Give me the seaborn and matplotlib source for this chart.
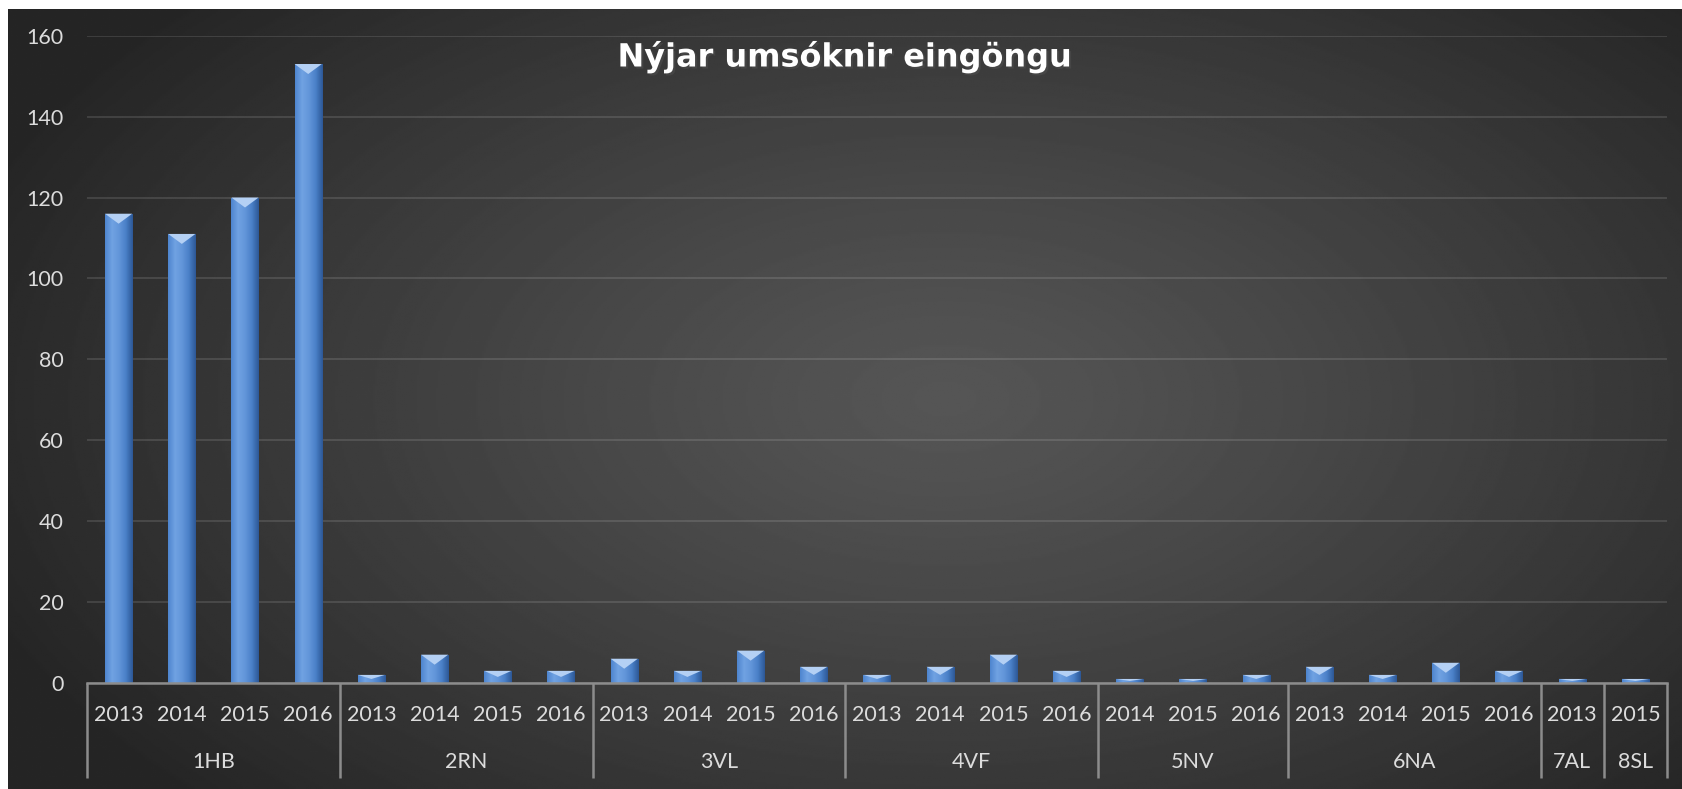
import numpy as np
import pandas as pd
import matplotlib
matplotlib.use("Agg")
import matplotlib.pyplot as plt
import matplotlib.patheffects as pe
import matplotlib.transforms as mtransforms
from matplotlib.patches import Polygon
from matplotlib.colors import LinearSegmentedColormap
import seaborn as sns

# ── data ──────────────────────────────────────────
groups = ["1HB"] * 4 + ["2RN"] * 4 + ["3VL"] * 4 + ["4VF"] * 4 + \
         ["5NV"] * 3 + ["6NA"] * 4 + ["7AL", "8SL"]
years = ["2013", "2014", "2015", "2016",
         "2013", "2014", "2015", "2016",
         "2013", "2014", "2015", "2016",
         "2013", "2014", "2015", "2016",
         "2014", "2015", "2016",
         "2013", "2014", "2015", "2016",
         "2013", "2015"]
counts = [116, 111, 120, 153,
          2, 7, 3, 3,
          6, 3, 8, 4,
          2, 4, 7, 3,
          1, 1, 2,
          4, 2, 5, 3,
          1, 1]
title = "Nýjar umsóknir eingöngu"

df = pd.DataFrame({"group": groups, "year": years, "count": counts})
df["key"] = df["group"] + " " + df["year"]

TXT = "#dcdcdc"
AXC = "#8c8c8c"
W, H = 1682, 789

sns.set_style("dark")
plt.rcParams["font.family"] = ["Lato", "DejaVu Sans"]

fig = plt.figure(figsize=(W / 100, H / 100), dpi=100, facecolor="white")

# ── background: radial dark-grey gradient ─────────
bg = fig.add_axes([8 / W, 0, 1 - 8 / W, (H - 9) / H], zorder=-10)
yy, xx = np.mgrid[0:1:400j, 0:1:800j]
r = np.sqrt(((xx - 0.56) / 0.62) ** 2 + ((yy - 0.5) / 0.75) ** 2)
shade = 0.335 - 0.19 * np.clip(r, 0, 1) ** 1.2
bg.imshow(shade, cmap="gray", vmin=0, vmax=1, aspect="auto", extent=[0, 1, 0, 1])
bg.set_axis_off()

ax = fig.add_axes([87 / W, (H - 683) / H, (1667 - 87) / W, (683 - 35.7) / H])
ax.set_facecolor("none")

sns.barplot(data=df, x="key", y="count", color="#4f84cc", width=0.43,
            saturation=1, linewidth=0, edgecolor="none", ax=ax, zorder=3)

# bar shading + bevel, taken from the drawn bars
grad = LinearSegmentedColormap.from_list(
    "bar", ["#4e85cf", "#70a2e2", "#6396da", "#4a80c8", "#2d5896"])
strip = np.linspace(0, 1, 64).reshape(1, -1)
px_per_unit = (683 - 35.7) / 160
for p in ax.patches:
    x0, y0 = p.get_x(), p.get_y()
    w, h = p.get_width(), p.get_height()
    if h <= 0:
        continue
    im = ax.imshow(strip, cmap=grad, aspect="auto",
                   extent=[x0, x0 + w, y0, y0 + h], zorder=3.5)
    im.set_clip_path(p)
    d = min(10 / px_per_unit, h * 0.5)
    ax.add_patch(Polygon([[x0, y0 + h], [x0 + w, y0 + h], [x0 + w / 2, y0 + h - d]],
                         closed=True, facecolor="#b4d0f4", edgecolor="none", zorder=4))

n = len(df)
ax.set_xlim(-0.5, n - 0.5)
ax.set_ylim(0, 160)
ax.set_yticks(range(0, 161, 20))
ax.yaxis.grid(True, color="white", alpha=0.12, lw=1.4)
ax.xaxis.grid(False)
ax.set_axisbelow(True)
for s in ["top", "right", "left"]:
    ax.spines[s].set_visible(False)
ax.spines["bottom"].set_color(AXC)
ax.spines["bottom"].set_linewidth(1.8)
ax.spines["bottom"].set_zorder(5)

ax.set_xticks(range(n))
ax.set_xticklabels(df["year"])
ax.tick_params(axis="x", length=0, pad=16, labelsize=15.5, labelcolor=TXT)
ax.tick_params(axis="y", length=0, pad=17, labelsize=15.5, labelcolor=TXT)
ax.set_xlabel("")
ax.set_ylabel("")

# group labels and separators
trans = mtransforms.blended_transform_factory(ax.transData, ax.transAxes)
idx = np.arange(n)
bounds = []
for g in dict.fromkeys(groups):
    members = idx[df["group"] == g]
    ax.text(members.mean(), -0.122, g, transform=trans, ha="center", va="center",
            fontsize=15.5, color=TXT)
    bounds += [members.min() - 0.5, members.max() + 0.5]
for b in sorted(set(bounds)):
    ax.plot([b, b], [0, -0.146], transform=trans, color=AXC, lw=1.8,
            clip_on=False, solid_capstyle="butt")

fig.text(845 / W, 1 - 57 / H, title, ha="center", va="center",
         fontsize=23, fontweight="bold", color="white", family=["DejaVu Sans"],
         path_effects=[pe.withSimplePatchShadow(offset=(1.5, -1.5), alpha=0.6)])

fig.savefig("out.png", dpi=100)
